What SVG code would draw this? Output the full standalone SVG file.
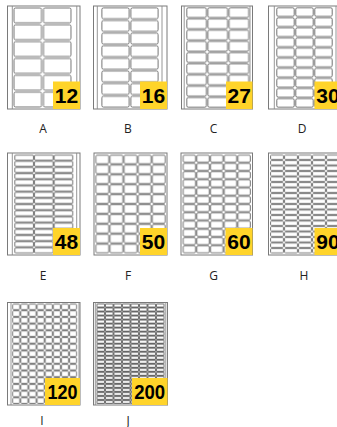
<svg xmlns="http://www.w3.org/2000/svg" width="337" height="427" viewBox="0 0 337 427">
<style>
.sheet{fill:#fff;stroke:#7a7a7a;stroke-width:1}
.mg{stroke:#8a8a8a;stroke-width:0.9}
.lb{fill:#fff;stroke:#666;stroke-width:0.9}
.bd{fill:#FFD42A}
.num{font-family:"Liberation Sans",Arial,sans-serif;font-weight:bold;font-size:21px;fill:#000;text-anchor:middle}
.cap{font-family:"Open Sans","Noto Sans",sans-serif;font-size:12px;fill:#222;text-anchor:middle}
</style>
<defs>
<pattern id="pA" patternUnits="userSpaceOnUse" x="13" y="7" width="29.5" height="16.833"><rect class="lb" x="1" y="1" width="27.5" height="14.833" rx="1.5"/></pattern>
<pattern id="pB" patternUnits="userSpaceOnUse" x="101" y="7" width="29" height="12.625"><rect class="lb" x="0.9" y="0.9" width="27.2" height="10.825" rx="1.5"/></pattern>
<pattern id="pC" patternUnits="userSpaceOnUse" x="186" y="7" width="21.17" height="11.222"><rect class="lb" x="0.8" y="0.8" width="19.57" height="9.622" rx="1.3"/></pattern>
<pattern id="pD" patternUnits="userSpaceOnUse" x="276" y="7" width="19" height="10.1"><rect class="lb" x="0.8" y="0.8" width="17.4" height="8.5" rx="1.3"/></pattern>
<pattern id="pE" patternUnits="userSpaceOnUse" x="14.3" y="154.5" width="19.67" height="6.19"><rect class="lb" x="0.6" y="0.6" width="18.47" height="4.99" rx="1"/></pattern>
<pattern id="pF" patternUnits="userSpaceOnUse" x="95.3" y="154.5" width="14.1" height="9.9"><rect class="lb" x="0.7" y="0.7" width="12.7" height="8.5" rx="1"/></pattern>
<pattern id="pG" patternUnits="userSpaceOnUse" x="182.5" y="154.5" width="13.7" height="8.25"><rect class="lb" x="0.7" y="0.7" width="12.3" height="6.85" rx="1"/></pattern>
<pattern id="pH" patternUnits="userSpaceOnUse" x="270" y="154.5" width="14" height="5.5"><rect class="lb" x="0.6" y="0.6" width="12.8" height="4.3" rx="0.8"/></pattern>
<pattern id="pI" patternUnits="userSpaceOnUse" x="12.2" y="303.5" width="8.125" height="6.7"><rect class="lb" x="0.6" y="0.6" width="6.925" height="5.5" rx="0.8"/></pattern>
<pattern id="pJ" patternUnits="userSpaceOnUse" x="96.5" y="303.5" width="8.5" height="4.02"><rect class="lb" x="0.5" y="0.5" width="7.5" height="3.02" rx="0.6"/></pattern>
</defs>

<g id="sheet-A">
<rect class="sheet" x="7.5" y="6" width="72.5" height="103"/>
<line class="mg" x1="12.3" y1="6" x2="12.3" y2="109"/><line class="mg" x1="76.8" y1="6" x2="76.8" y2="109"/>
<rect x="13" y="7" width="59" height="101" fill="url(#pA)"/>
<rect class="bd" x="53" y="81.5" width="27" height="27.5"/>
<text class="num" x="66.5" y="102.7">12</text>
<text class="cap" x="43" y="132.5">A</text>
</g>

<g id="sheet-B">
<rect class="sheet" x="93.5" y="6" width="73.5" height="103"/>
<line class="mg" x1="97.3" y1="6" x2="97.3" y2="109"/><line class="mg" x1="162" y1="6" x2="162" y2="109"/>
<rect x="101" y="7" width="58" height="101" fill="url(#pB)"/>
<rect class="bd" x="140" y="81.5" width="27" height="27.5"/>
<text class="num" x="153.5" y="102.7">16</text>
<text class="cap" x="128" y="132.5">B</text>
</g>

<g id="sheet-C">
<rect class="sheet" x="181.5" y="6" width="71" height="103"/>
<line class="mg" x1="184.2" y1="6" x2="184.2" y2="109"/><line class="mg" x1="250" y1="6" x2="250" y2="109"/>
<rect x="186" y="7" width="63.51" height="101" fill="url(#pC)"/>
<rect class="bd" x="226" y="81.5" width="26.5" height="27.5"/>
<text class="num" x="239.3" y="102.7">27</text>
<text class="cap" x="213.5" y="132.5">C</text>
</g>

<g id="sheet-D">
<rect class="sheet" x="268.5" y="6" width="73" height="103"/>
<line class="mg" x1="274.3" y1="6" x2="274.3" y2="109"/><line class="mg" x1="336" y1="6" x2="336" y2="109"/>
<rect x="276" y="7" width="57" height="101" fill="url(#pD)"/>
<rect class="bd" x="314.5" y="81.5" width="27" height="27.5"/>
<text class="num" x="328" y="102.7">30</text>
<text class="cap" x="302" y="132.5">D</text>
</g>

<g id="sheet-E">
<rect class="sheet" x="7.5" y="153" width="72.5" height="102"/>
<line class="mg" x1="12.3" y1="153" x2="12.3" y2="255"/><line class="mg" x1="76.7" y1="153" x2="76.7" y2="255"/>
<rect x="14.3" y="154.5" width="59.01" height="99.04" fill="url(#pE)"/>
<rect class="bd" x="53" y="228" width="27" height="27"/>
<text class="num" x="66.5" y="248.5">48</text>
<text class="cap" x="43" y="280">E</text>
</g>

<g id="sheet-F">
<rect class="sheet" x="94" y="153" width="73" height="102"/>
<rect x="95.3" y="154.5" width="70.5" height="99" fill="url(#pF)"/>
<rect class="bd" x="140" y="228" width="27" height="27"/>
<text class="num" x="153.5" y="248.5">50</text>
<text class="cap" x="128" y="280">F</text>
</g>

<g id="sheet-G">
<rect class="sheet" x="181" y="153" width="71.5" height="102"/>
<rect x="182.5" y="154.5" width="68.5" height="99" fill="url(#pG)"/>
<rect class="bd" x="225.5" y="228" width="27" height="27"/>
<text class="num" x="239" y="248.5">60</text>
<text class="cap" x="213.5" y="280">G</text>
</g>

<g id="sheet-H">
<rect class="sheet" x="268.5" y="153" width="73" height="102"/>
<rect x="270" y="154.5" width="70" height="99" fill="url(#pH)"/>
<rect class="bd" x="314.5" y="228" width="27" height="27"/>
<text class="num" x="328" y="248.5">90</text>
<text class="cap" x="304" y="280">H</text>
</g>

<g id="sheet-I">
<rect class="sheet" x="7.5" y="302.5" width="72.5" height="102.5"/>
<line class="mg" x1="11" y1="302.5" x2="11" y2="405"/><line class="mg" x1="79" y1="302.5" x2="79" y2="405"/>
<rect x="12.2" y="303.5" width="65" height="100.5" fill="url(#pI)"/>
<rect class="bd" x="45" y="378" width="35" height="27"/>
<text class="num" x="62.5" y="398.5" textLength="30" lengthAdjust="spacingAndGlyphs">120</text>
<text class="cap" x="42" y="424.5">I</text>
</g>

<g id="sheet-J">
<rect class="sheet" x="93.5" y="302.5" width="74" height="102.5"/>
<line class="mg" x1="95.3" y1="302.5" x2="95.3" y2="405"/><line class="mg" x1="165.8" y1="302.5" x2="165.8" y2="405"/>
<rect x="96.5" y="303.5" width="68" height="100.5" fill="url(#pJ)"/>
<rect class="bd" x="132" y="378" width="35.5" height="27"/>
<text class="num" x="149.7" y="398.5" textLength="31" lengthAdjust="spacingAndGlyphs">200</text>
<text class="cap" x="128" y="424.5">J</text>
</g>
</svg>
